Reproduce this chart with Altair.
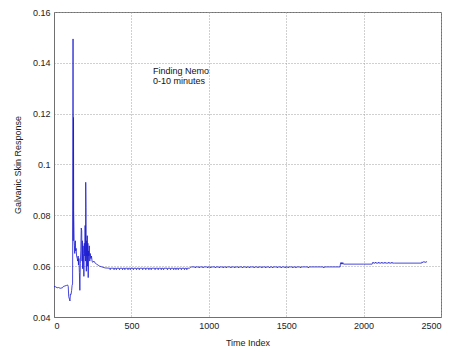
import altair as alt
import pandas as pd

# Time index samples (x) and galvanic skin response (y)
time_idx = [
    0, 10, 20, 30, 40, 55, 60, 70, 80, 88, 92, 95, 100, 103, 106, 110, 114, 117, 120,
    122, 123, 124, 126, 127, 128, 130, 132, 134, 136, 138, 140, 143, 146, 150, 153, 156, 158,
    161, 164, 167, 170, 173, 176, 179, 181, 183, 185, 188, 190, 193, 196, 199, 201, 203, 205,
    207, 209, 211, 213, 215, 217, 219, 221, 223, 225, 228, 231, 234, 238, 242, 246, 250, 258,
    266, 275, 285, 295, 310, 330,
    360, 363, 366, 385, 388, 391, 400, 403, 406, 420, 423, 426, 440, 443, 446, 455, 458, 461,
    475, 478, 481, 490, 493, 496, 510, 513, 516, 530, 533, 536, 548, 551, 554, 570, 573, 576,
    590, 593, 596, 610, 613, 616, 625, 628, 631, 650, 653, 656, 670, 673, 676, 690, 693, 696,
    705, 708, 711, 730, 733, 736, 750, 753, 756, 770, 773, 776, 785, 788, 791, 800, 803, 806,
    820, 823, 826, 840, 843, 846, 855, 858, 861, 875, 885,
    910, 913, 916, 935, 938, 941, 960, 963, 966, 990, 993, 996, 1010, 1013, 1016, 1040, 1043,
    1046, 1065, 1068, 1071, 1090, 1093, 1096, 1110, 1113, 1116, 1140, 1143, 1146, 1165, 1168,
    1171, 1190, 1193, 1196, 1215, 1218, 1221, 1240, 1243, 1246, 1260, 1263, 1266, 1290, 1293,
    1296, 1315, 1318, 1321, 1340, 1343, 1346, 1365, 1368, 1371, 1390, 1393, 1396, 1410, 1413,
    1416, 1440, 1443, 1446, 1465, 1468, 1471, 1490, 1493, 1496, 1510, 1513, 1516, 1540, 1543,
    1546, 1560, 1563, 1566,
    1590, 1593, 1596, 1640, 1643, 1646, 1740, 1743, 1746, 1848,
    1850, 1853, 1856, 1859, 1862, 1866, 1870, 2000, 2055,
    2058, 2061, 2064, 2075, 2078, 2081, 2095, 2098, 2101, 2115, 2118, 2121, 2135, 2138, 2141,
    2160, 2163, 2166, 2180, 2183, 2186, 2200, 2375, 2378, 2381, 2385, 2395, 2398, 2401, 2410,
]
gsr = [
    0.0520, 0.0519, 0.0515, 0.0516, 0.0513, 0.0515, 0.0520, 0.0522, 0.0524, 0.0526, 0.0520,
    0.0480, 0.0470, 0.0463, 0.0490, 0.0488, 0.0505, 0.0525, 0.0530,
    0.0900, 0.1494, 0.0700, 0.1185, 0.0820, 0.0780, 0.0700, 0.0680, 0.0650, 0.0690, 0.0700,
    0.0660, 0.0670, 0.0640, 0.0630, 0.0620, 0.0640, 0.0605, 0.0630, 0.0575, 0.0505, 0.0610,
    0.0660, 0.0750, 0.0740, 0.0620, 0.0700, 0.0590, 0.0680, 0.0650, 0.0560, 0.0690, 0.0640,
    0.0760, 0.0620, 0.0930, 0.0830, 0.0580, 0.0700, 0.0640, 0.0720, 0.0600, 0.0690, 0.0555,
    0.0660, 0.0640, 0.0680, 0.0620, 0.0650, 0.0630, 0.0640, 0.0620, 0.0615, 0.0620, 0.0612,
    0.0608, 0.0604, 0.0600, 0.0597, 0.0593,
    0.0592, 0.0586, 0.0592, 0.0592, 0.0586, 0.0592, 0.0592, 0.0586, 0.0592, 0.0592, 0.0586,
    0.0592, 0.0592, 0.0586, 0.0592, 0.0592, 0.0586, 0.0592, 0.0592, 0.0586, 0.0592, 0.0592,
    0.0586, 0.0592, 0.0592, 0.0586, 0.0592, 0.0592, 0.0586, 0.0592, 0.0592, 0.0586, 0.0592,
    0.0592, 0.0586, 0.0592, 0.0592, 0.0586, 0.0592, 0.0592, 0.0586, 0.0592, 0.0592, 0.0586,
    0.0592, 0.0592, 0.0586, 0.0592, 0.0592, 0.0586, 0.0592, 0.0592, 0.0586, 0.0592, 0.0592,
    0.0586, 0.0592, 0.0592, 0.0586, 0.0592, 0.0592, 0.0586, 0.0592, 0.0592, 0.0586, 0.0592,
    0.0592, 0.0586, 0.0592, 0.0592, 0.0586, 0.0592, 0.0592, 0.0586, 0.0592, 0.0592, 0.0586,
    0.0592, 0.0592, 0.0586, 0.0592, 0.0592, 0.0597,
    0.0597, 0.0593, 0.0597, 0.0597, 0.0593, 0.0597, 0.0597, 0.0593, 0.0597, 0.0597, 0.0593,
    0.0597, 0.0597, 0.0593, 0.0597, 0.0597, 0.0593, 0.0597, 0.0597, 0.0593, 0.0597, 0.0597,
    0.0593, 0.0597, 0.0597, 0.0593, 0.0597, 0.0597, 0.0593, 0.0597, 0.0597, 0.0593, 0.0597,
    0.0597, 0.0593, 0.0597, 0.0597, 0.0593, 0.0597, 0.0597, 0.0593, 0.0597, 0.0597, 0.0593,
    0.0597, 0.0597, 0.0593, 0.0597, 0.0597, 0.0593, 0.0597, 0.0597, 0.0593, 0.0597, 0.0597,
    0.0593, 0.0597, 0.0597, 0.0593, 0.0597, 0.0597, 0.0593, 0.0597, 0.0597, 0.0593, 0.0597,
    0.0597, 0.0593, 0.0597, 0.0597, 0.0593, 0.0597, 0.0597, 0.0593, 0.0597, 0.0597, 0.0593,
    0.0597, 0.0597, 0.0593, 0.0597,
    0.0597, 0.0593, 0.0597, 0.0597, 0.0593, 0.0597, 0.0597, 0.0593, 0.0597, 0.0597,
    0.0608, 0.0614, 0.0608, 0.0614, 0.0608, 0.0614, 0.0608, 0.0608, 0.0608,
    0.0612, 0.0616, 0.0612, 0.0612, 0.0616, 0.0612, 0.0612, 0.0616, 0.0612, 0.0612, 0.0616,
    0.0612, 0.0612, 0.0616, 0.0612, 0.0612, 0.0616, 0.0612, 0.0612, 0.0616, 0.0612, 0.0612,
    0.0612, 0.0617, 0.0614, 0.0617, 0.0617, 0.0614, 0.0617, 0.0617,
]

annotation_lines = ["Finding Nemo", "0-10 minutes"]
annotation_x = [640, 640]
annotation_y = [0.1368, 0.1329]

x_ticks = [0, 500, 1000, 1500, 2000, 2500]
y_ticks = [0.04, 0.06, 0.08, 0.1, 0.12, 0.14, 0.16]

df = pd.DataFrame({"t": time_idx, "g": gsr})
ann = pd.DataFrame({"label": annotation_lines, "t": annotation_x, "g": annotation_y})

FONT = "Liberation Sans"

x_enc = alt.X(
    "t:Q",
    scale=alt.Scale(domain=[0, 2500], nice=False, zero=False),
    axis=alt.Axis(
        values=x_ticks, format="d", title="Time Index", grid=True, gridDash=[1, 2],
        gridColor="#a0a0a0", gridWidth=1, domainColor="#707070", tickColor="#707070",
        tickSize=0, labelPadding=4, titlePadding=8, labelFontSize=9, titleFontSize=9,
        labelFont=FONT, titleFont=FONT, titleFontWeight="normal", labelColor="#222222",
        titleColor="#222222",
    ),
)
y_enc = alt.Y(
    "g:Q",
    scale=alt.Scale(domain=[0.04, 0.16], nice=False, zero=False),
    axis=alt.Axis(
        values=y_ticks, format="~g", title="Galvanic Skin Response", grid=True,
        gridDash=[1, 2], gridColor="#a0a0a0", gridWidth=1, domainColor="#707070",
        tickColor="#707070", tickSize=0, labelPadding=4, titlePadding=10,
        labelFontSize=9, titleFontSize=9, labelFont=FONT, titleFont=FONT,
        titleFontWeight="normal", labelColor="#222222", titleColor="#222222",
    ),
)

line = alt.Chart(df).mark_line(color="#1a1ad0", strokeWidth=0.8, interpolate="linear").encode(
    x=x_enc, y=y_enc
)

text = alt.Chart(ann).mark_text(
    align="left", baseline="middle", font=FONT, fontSize=9, color="#111111"
).encode(x="t:Q", y="g:Q", text="label:N")

chart = (
    alt.layer(line, text)
    .properties(
        width=387, height=305,
        autosize=alt.AutoSizeParams(type="none"),
        padding={"left": 46, "top": 4, "right": 3, "bottom": 40},
        background="white",
    )
    .configure_view(stroke="#707070", strokeWidth=1)
)

chart.save("out.html", embed_options={"renderer": "svg", "actions": False})
